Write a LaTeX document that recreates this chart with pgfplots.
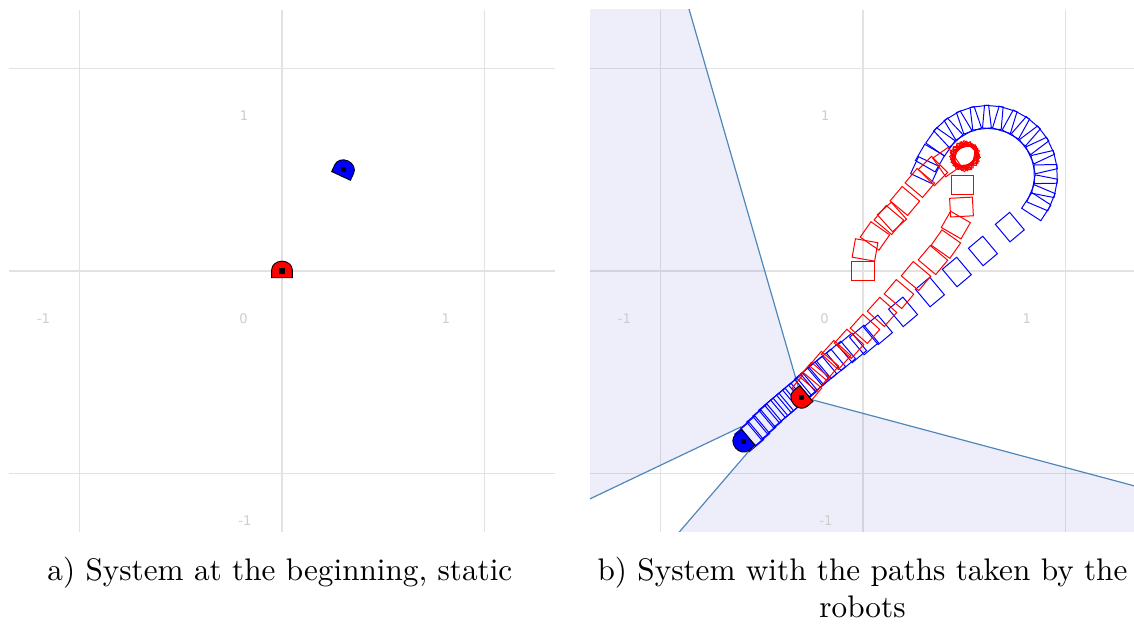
\documentclass[border=0pt]{standalone}
\usepackage{fontspec}
\usepackage{pgfplots}
\pgfplotsset{compat=1.18}
\usepackage{pgfplotstable}
\newfontfamily\tickfont{DejaVu Sans}

\definecolor{gridc}{RGB}{226,226,226}
\definecolor{tickc}{RGB}{205,205,205}
\definecolor{cellline}{RGB}{80,135,185}
\definecolor{cellfill}{RGB}{0,0,200}
\definecolor{robred}{RGB}{255,0,0}
\definecolor{robblue}{RGB}{0,0,255}

\pgfdeclareplotmark{rrect}{%
  \pgfpathrectangle{\pgfpoint{-\pgfplotmarksize}{-0.82\pgfplotmarksize}}{\pgfpoint{2\pgfplotmarksize}{1.64\pgfplotmarksize}}%
  \pgfusepathqstroke}
\pgfdeclareplotmark{dome}{%
  \pgfpathmoveto{\pgfpoint{-\pgfplotmarksize}{-0.65\pgfplotmarksize}}%
  \pgfpathlineto{\pgfpoint{\pgfplotmarksize}{-0.65\pgfplotmarksize}}%
  \pgfpathlineto{\pgfpoint{\pgfplotmarksize}{0.1\pgfplotmarksize}}%
  \pgfpatharc{0}{180}{\pgfplotmarksize and 0.85\pgfplotmarksize}%
  \pgfpathclose
  \pgfusepathqfillstroke}

\pgfplotstableread{
x y r
0.000 0.000 0
0.010 0.104 -10
0.059 0.173 -35
0.128 0.252 -40
0.143 0.267 -48
0.207 0.346 -40
0.281 0.435 -40
0.346 0.494 -45
0.415 0.538 -55
0.504 0.568 0
0.506 0.570 7
0.502 0.566 14
0.505 0.565 21
0.503 0.571 28
0.507 0.567 35
0.501 0.569 42
0.504 0.564 49
0.506 0.572 56
0.502 0.567 63
0.505 0.569 70
0.503 0.566 77
0.504 0.570 84
0.492 0.425 0
0.487 0.316 3
0.459 0.227 -30
0.410 0.133 -35
0.346 0.054 -40
0.262 -0.025 -40
0.178 -0.114 -40
0.094 -0.202 -42
0.010 -0.286 -42
-0.069 -0.360 -42
-0.133 -0.415 -42
-0.193 -0.469 -40
-0.242 -0.523 -40
-0.277 -0.578 -40
}\redpath

\pgfplotstableread{
x y r
0.306 0.499 -25
0.331 0.558 -30
0.383 0.638 145
0.422 0.683 133
0.470 0.719 121
0.524 0.745 109
0.582 0.758 97
0.642 0.759 85
0.701 0.747 73
0.756 0.724 61
0.805 0.690 49
0.846 0.646 37
0.876 0.595 25
0.896 0.538 13
0.903 0.479 1
0.898 0.419 -11
0.880 0.362 -23
0.857 0.318 -33
0.726 0.217 130
0.593 0.099 130
0.464 -0.005 130
0.331 -0.104 130
0.198 -0.202 130
0.074 -0.291 130
0.005 -0.341 130
-0.054 -0.380 130
-0.109 -0.420 130
-0.158 -0.459 130
-0.202 -0.494 130
-0.237 -0.523 130
-0.267 -0.548 130
-0.296 -0.578 130
-0.326 -0.602 130
-0.356 -0.627 130
-0.385 -0.652 130
-0.415 -0.677 130
-0.444 -0.701 130
-0.474 -0.731 130
-0.504 -0.760 130
-0.533 -0.790 130
-0.563 -0.820 130
}\bluepath

\tikzset{
  ticklab/.style={font=\tickfont\fontsize{4.4}{5}\selectfont, text=tickc, inner sep=0pt, anchor=center},
}
\pgfplotsset{
  robotaxis/.style={
    scale only axis, width=182pt, height=174pt,
    xmin=-1.35, xmax=1.35, ymin=-1.29, ymax=1.29,
    axis line style={draw=none},
    tick style={draw=none}, major tick length=0pt,
    xtick={-1,0,1}, ytick={-1,0,1},
    xticklabels={}, yticklabels={},
    grid=major, major grid style={gridc, line width=0.45pt},
    anchor=north west,
  },
  pathmarks/.style={scatter, only marks, mark=rrect, mark size=3.8pt, point meta=y,
    scatter/use mapped color={draw=#1, fill=none},
    visualization depends on={\thisrow{r} \as \rotang},
    scatter/@pre marker code/.append style={/tikz/rotate=\rotang},
    line width=0.33pt},
}

\begin{document}
\begin{tikzpicture}
\path[use as bounding box] (0,0) rectangle (378pt,-208.33pt);

% ---------- left panel ----------
\begin{axis}[robotaxis, at={(3pt,-3.33pt)}]
  \node[ticklab] at (axis cs:-0.187,0.768) {1};
  \node[ticklab] at (axis cs:-1.18,-0.237) {-1};
  \node[ticklab] at (axis cs:-0.19,-0.237) {0};
  \node[ticklab] at (axis cs:0.81,-0.237) {1};
  \node[ticklab] at (axis cs:-0.183,-1.232) {-1};
  \addplot[only marks, mark=dome, mark size=3.45pt,
    mark options={fill=robred, draw=black, line width=0.3pt}] coordinates {(0,0)};
  \addplot[only marks, mark=dome, mark size=3.45pt,
    mark options={fill=robblue, draw=black, line width=0.3pt, rotate=-25}] coordinates {(0.306,0.50)};
  \addplot[only marks, mark=square*, mark size=0.65pt, black] coordinates {(0,0) (0.306,0.50)};
\end{axis}

% ---------- right panel ----------
\begin{axis}[robotaxis, at={(196.67pt,-3.33pt)}]
  \addplot[draw=none, fill=cellfill, fill opacity=0.065] coordinates {
    (-1.36,1.30) (-0.862,1.30) (-0.306,-0.622) (1.36,-1.067) (1.36,-1.30)
    (-0.917,-1.30) (-0.533,-0.854) (-0.602,-0.770) (-1.36,-1.131)} -- cycle;
  \addplot[cellline, line width=0.4pt] coordinates {(-0.862,1.30) (-0.306,-0.622) (1.36,-1.067)};
  \addplot[cellline, line width=0.4pt] coordinates {(-1.36,-1.131) (-0.602,-0.770)};
  \addplot[cellline, line width=0.4pt] coordinates {(-0.917,-1.30) (-0.533,-0.854)};
  \node[ticklab] at (axis cs:-0.187,0.768) {1};
  \node[ticklab] at (axis cs:-1.18,-0.237) {-1};
  \node[ticklab] at (axis cs:-0.19,-0.237) {0};
  \node[ticklab] at (axis cs:0.81,-0.237) {1};
  \node[ticklab] at (axis cs:-0.183,-1.232) {-1};
  \addplot[pathmarks=robblue] table {\bluepath};
  \addplot[pathmarks=robred] table {\redpath};
  \addplot[only marks, mark=dome, mark size=3.45pt,
    mark options={fill=robred, draw=black, line width=0.3pt, rotate=130}] coordinates {(-0.306,-0.627)};
  \addplot[only marks, mark=dome, mark size=3.45pt,
    mark options={fill=robblue, draw=black, line width=0.3pt, rotate=130}] coordinates {(-0.593,-0.844)};
  \addplot[only marks, mark=square*, mark size=0.65pt, black] coordinates {(-0.306,-0.627) (-0.593,-0.844)};
\end{axis}

% ---------- captions ----------
\node[anchor=base, font=\fontsize{10.4}{12.5}\selectfont] at (93.3pt,-193.5pt) {a) System at the beginning, static};
\node[anchor=base, font=\fontsize{10.4}{12.5}\selectfont] at (287.5pt,-193.5pt) {b) System with the paths taken by the};
\node[anchor=base, font=\fontsize{10.4}{12.5}\selectfont] at (287.5pt,-206.0pt) {robots};
\end{tikzpicture}
\end{document}
